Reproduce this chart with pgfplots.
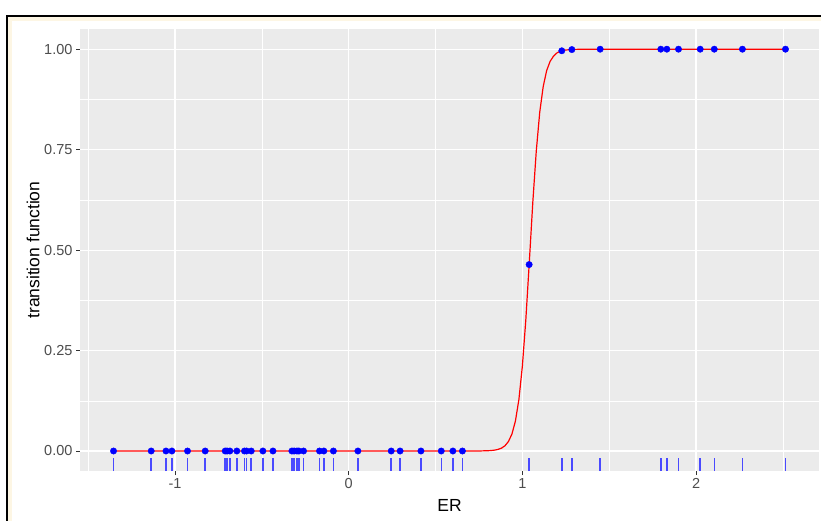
\documentclass[border=0pt]{standalone}
\usepackage{pgfplots}
\pgfplotsset{compat=1.18}
\usepackage{fontspec}
\setmainfont{Liberation Sans}
\definecolor{panelgrey}{HTML}{EBEBEB}
\definecolor{grey30}{HTML}{4D4D4D}
\definecolor{grey20}{HTML}{333333}
\definecolor{cream}{HTML}{FDF6E4}
\definecolor{rugblue}{HTML}{4A4AFF}
\begin{document}
\begin{tikzpicture}
\path[use as bounding box] (0pt,0pt) rectangle (821pt,521pt);
\fill[white] (0pt,0pt) rectangle (821pt,521pt);
\fill[cream] (8.3pt,0pt) rectangle (821pt,504.3pt);
\fill[white] (12.3pt,0pt) rectangle (821pt,500.3pt);
\draw[black, line width=2pt] (7.3pt,0pt) -- (7.3pt,505.3pt) -- (821pt,505.3pt);
\begin{axis}[
  at={(80pt,49.9pt)}, anchor=south west,
  scale only axis, width=739pt, height=442pt,
  xmin=-1.547, xmax=2.708, ymin=-0.05, ymax=1.05,
  axis background/.style={fill=panelgrey},
  axis line style={draw=none},
  xtick={-1,0,1,2}, xticklabels={-1,0,1,2},
  ytick={0,0.25,0.5,0.75,1}, yticklabels={0.00,0.25,0.50,0.75,1.00},
  minor xtick={-1.5,-0.5,0.5,1.5,2.5},
  minor ytick={0.125,0.375,0.625,0.875},
  xtick pos=left, ytick pos=left,
  tick align=outside, major tick length=4pt, minor tick length=0pt,
  major tick style={grey20, line width=1pt},
  grid=both,
  major grid style={white, line width=1.1pt},
  minor grid style={white, line width=0.55pt},
  tick label style={font=\fontsize{14.5}{16}\selectfont, text=grey30},
  xlabel={ER}, ylabel={transition function},
  label style={font=\fontsize{17.5}{20}\selectfont, text=black},
  xlabel style={at={(axis description cs:0.5,-0.0769)}, anchor=center},
  ylabel style={at={(axis description cs:-0.0636,0.5)}, anchor=center, rotate=0},
  unbounded coords=jump,
]
% rug: one short vertical segment per observation, separated by nan jumps
\addplot[rugblue, line width=1.5pt, mark=none] coordinates {
(-1.354,-0.05) (-1.354,-0.017) (-1.354,nan)
(-1.137,-0.05) (-1.137,-0.017) (-1.137,nan)
(-1.052,-0.05) (-1.052,-0.017) (-1.052,nan)
(-1.018,-0.05) (-1.018,-0.017) (-1.018,nan)
(-0.928,-0.05) (-0.928,-0.017) (-0.928,nan)
(-0.826,-0.05) (-0.826,-0.017) (-0.826,nan)
(-0.711,-0.05) (-0.711,-0.017) (-0.711,nan)
(-0.700,-0.05) (-0.700,-0.017) (-0.700,nan)
(-0.684,-0.05) (-0.684,-0.017) (-0.684,nan)
(-0.644,-0.05) (-0.644,-0.017) (-0.644,nan)
(-0.600,-0.05) (-0.600,-0.017) (-0.600,nan)
(-0.588,-0.05) (-0.588,-0.017) (-0.588,nan)
(-0.561,-0.05) (-0.561,-0.017) (-0.561,nan)
(-0.494,-0.05) (-0.494,-0.017) (-0.494,nan)
(-0.436,-0.05) (-0.436,-0.017) (-0.436,nan)
(-0.327,-0.05) (-0.327,-0.017) (-0.327,nan)
(-0.314,-0.05) (-0.314,-0.017) (-0.314,nan)
(-0.298,-0.05) (-0.298,-0.017) (-0.298,nan)
(-0.287,-0.05) (-0.287,-0.017) (-0.287,nan)
(-0.260,-0.05) (-0.260,-0.017) (-0.260,nan)
(-0.168,-0.05) (-0.168,-0.017) (-0.168,nan)
(-0.143,-0.05) (-0.143,-0.017) (-0.143,nan)
(-0.088,-0.05) (-0.088,-0.017) (-0.088,nan)
(0.053,-0.05) (0.053,-0.017) (0.053,nan)
(0.245,-0.05) (0.245,-0.017) (0.245,nan)
(0.296,-0.05) (0.296,-0.017) (0.296,nan)
(0.416,-0.05) (0.416,-0.017) (0.416,nan)
(0.533,-0.05) (0.533,-0.017) (0.533,nan)
(0.600,-0.05) (0.600,-0.017) (0.600,nan)
(0.655,-0.05) (0.655,-0.017) (0.655,nan)
(1.039,-0.05) (1.039,-0.017) (1.039,nan)
(1.227,-0.05) (1.227,-0.017) (1.227,nan)
(1.285,-0.05) (1.285,-0.017) (1.285,nan)
(1.448,-0.05) (1.448,-0.017) (1.448,nan)
(1.797,-0.05) (1.797,-0.017) (1.797,nan)
(1.832,-0.05) (1.832,-0.017) (1.832,nan)
(1.899,-0.05) (1.899,-0.017) (1.899,nan)
(2.024,-0.05) (2.024,-0.017) (2.024,nan)
(2.105,-0.05) (2.105,-0.017) (2.105,nan)
(2.267,-0.05) (2.267,-0.017) (2.267,nan)
(2.515,-0.05) (2.515,-0.017)
};
% transition function curve
\addplot[red, line width=1.2pt, mark=none] coordinates {
(-1.354,0) (0.70,0) (0.76,0.0002) (0.80,0.0007) (0.82,0.0012) (0.84,0.0022)
(0.86,0.0040) (0.88,0.0072) (0.90,0.0131) (0.92,0.0237) (0.94,0.0423)
(0.96,0.0745) (0.98,0.128) (1.00,0.211) (1.02,0.327) (1.04,0.470)
(1.06,0.618) (1.08,0.746) (1.10,0.843) (1.12,0.907) (1.14,0.947)
(1.16,0.970) (1.18,0.983) (1.20,0.991) (1.22,0.995) (1.25,0.998)
(1.30,0.9995) (1.40,1) (2.515,1)
};
% points
\addplot[only marks, mark=*, mark size=3.2pt, mark options={blue, fill=blue, draw=blue}] coordinates {
(-1.354,0) (-1.137,0) (-1.052,0) (-1.018,0) (-0.928,0)
(-0.826,0) (-0.711,0) (-0.700,0) (-0.684,0) (-0.644,0)
(-0.600,0) (-0.588,0) (-0.561,0) (-0.494,0) (-0.436,0)
(-0.327,0) (-0.314,0) (-0.298,0) (-0.287,0) (-0.260,0)
(-0.168,0) (-0.143,0) (-0.088,0) (0.053,0) (0.245,0)
(0.296,0) (0.416,0) (0.533,0) (0.600,0) (0.655,0)
(1.039,0.464) (1.227,0.996) (1.285,0.999) (1.448,1) (1.797,1)
(1.832,1) (1.899,1) (2.024,1) (2.105,1) (2.267,1)
(2.515,1)
};
\end{axis}
\end{tikzpicture}
\end{document}
